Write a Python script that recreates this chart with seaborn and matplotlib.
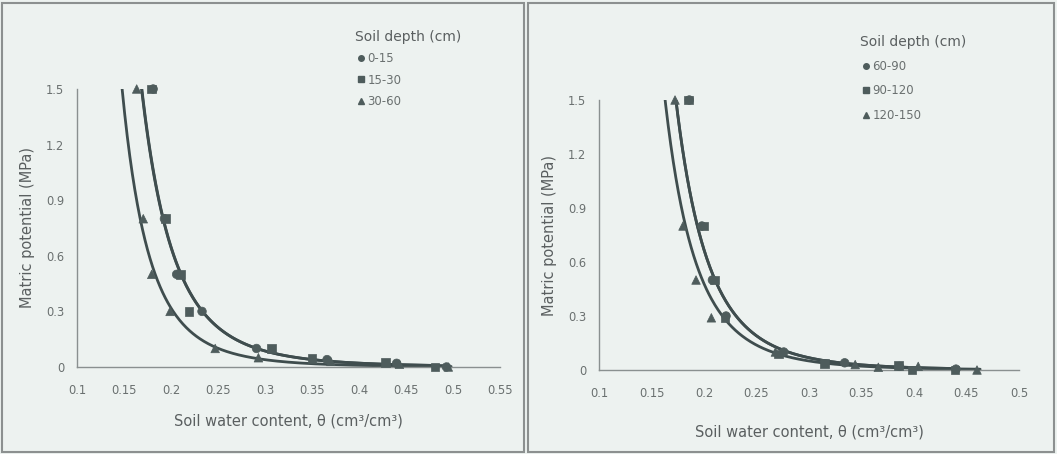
import numpy as np
import pandas as pd
import matplotlib
matplotlib.use("Agg")
import matplotlib.pyplot as plt
import seaborn as sns
from matplotlib.patches import Rectangle
from matplotlib.lines import Line2D

# ---------------- data ----------------
# Left panel: soil depths 0-15, 15-30, 30-60 cm
left_labels = ["0-15", "15-30", "30-60"]
left_theta_0_15 = [0.181, 0.193, 0.206, 0.233, 0.291, 0.366, 0.440, 0.493]
left_psi_0_15 = [1.5, 0.8, 0.5, 0.3, 0.1, 0.04, 0.02, 0.0]
left_theta_15_30 = [0.179, 0.194, 0.210, 0.219, 0.307, 0.350, 0.428, 0.481]
left_psi_15_30 = [1.5, 0.8, 0.5, 0.3, 0.1, 0.045, 0.025, 0.0]
left_theta_30_60 = [0.1635, 0.1705, 0.1795, 0.199, 0.247, 0.293, 0.370, 0.443, 0.495]
left_psi_30_60 = [1.5, 0.8, 0.5, 0.3, 0.1, 0.05, 0.03, 0.015, 0.0]
# power trendlines psi = a * theta^(-b)
left_trend_a = [2.18e-4, 2.20e-4, 8.0e-5]
left_trend_b = [4.97, 4.96, 5.15]

# Right panel: soil depths 60-90, 90-120, 120-150 cm
right_labels = ["60-90", "90-120", "120-150"]
right_theta_60_90 = [0.186, 0.198, 0.208, 0.221, 0.276, 0.334, 0.386, 0.440]
right_psi_60_90 = [1.5, 0.8, 0.5, 0.3, 0.1, 0.04, 0.02, 0.005]
right_theta_90_120 = [0.185, 0.200, 0.210, 0.220, 0.271, 0.315, 0.385, 0.398, 0.439]
right_psi_90_120 = [1.5, 0.8, 0.5, 0.29, 0.09, 0.035, 0.024, 0.0, 0.0]
right_theta_120_150 = [0.1724, 0.180, 0.1924, 0.207, 0.268, 0.344, 0.366, 0.404, 0.460]
right_psi_120_150 = [1.5, 0.8, 0.5, 0.29, 0.1, 0.03, 0.015, 0.02, 0.0]
right_trend_a = [7.64e-5, 7.75e-5, 6.13e-5]
right_trend_b = [5.64, 5.63, 5.57]

left_xticks = [0.1, 0.15, 0.2, 0.25, 0.3, 0.35, 0.4, 0.45, 0.5, 0.55]
left_xticklabels = ["0.1", "0.15", "0.2", "0.25", "0.3", "0.35", "0.4", "0.45", "0.5", "0.55"]
right_xticks = [0.1, 0.15, 0.2, 0.25, 0.3, 0.35, 0.4, 0.45, 0.5]
right_xticklabels = ["0.1", "0.15", "0.2", "0.25", "0.3", "0.35", "0.4", "0.45", "0.5"]
yticks = [0, 0.3, 0.6, 0.9, 1.2, 1.5]
yticklabels = ["0", "0.3", "0.6", "0.9", "1.2", "1.5"]

legend_title = "Soil depth (cm)"
xlabel = "Soil water content, θ (cm³/cm³)"
ylabel = "Matric potential (MPa)"

# ---------------- style ----------------
BG = "#edf2f0"
MARK = "#4e5c5c"
LINE = "#3f4d4e"
TXT = "#5a5f60"
TICKTXT = "#6a7070"
sns.set_theme(style="white")
plt.rcParams["font.family"] = ["DejaVu Sans"]
plt.rcParams["figure.facecolor"] = BG
plt.rcParams["axes.facecolor"] = BG

W, H = 1057, 454
fig = plt.figure(figsize=(W / 100, H / 100), dpi=100)

# panel frames
fig.patches.append(Rectangle((2 / W, 2 / H), 522 / W, 449 / H, transform=fig.transFigure,
                             fill=False, edgecolor="#8c9090", lw=1.5))
fig.patches.append(Rectangle((528 / W, 2 / H), 526 / W, 449 / H, transform=fig.transFigure,
                             fill=False, edgecolor="#8c9090", lw=1.5))

ax1 = fig.add_axes([77 / W, (H - 367) / H, 423 / W, 278 / H])
ax2 = fig.add_axes([599 / W, (H - 370) / H, 420 / W, 270 / H])

markers = ["o", "s", "^"]


def build_df(labels, thetas, psis):
    rows = []
    for lab, th, ps in zip(labels, thetas, psis):
        for t, p in zip(th, ps):
            rows.append({"depth": lab, "theta": t, "psi": p})
    return pd.DataFrame(rows)


def draw(ax, labels, thetas, psis, ta, tb, xmax, xticks, xticklabels,
         leg_xy, leg_spacing, xlabel_pad):
    df = build_df(labels, thetas, psis)
    # trendlines
    for th, a, b in zip(thetas, ta, tb):
        grid = np.linspace(0.14, max(th) + 0.003, 400)
        sns.lineplot(x=grid, y=a * grid ** (-b), ax=ax, color=LINE, lw=2.0,
                     estimator=None, sort=False)
    sns.scatterplot(data=df, x="theta", y="psi", style="depth", style_order=labels,
                    markers=dict(zip(labels, markers)), color=MARK, s=38,
                    edgecolor=MARK, linewidth=0.5, ax=ax, legend=False, zorder=3)
    for coll in ax.collections:
        coll.set_clip_on(False)
    ax.set_xlim(0.1, xmax)
    ax.set_ylim(0, 1.5)
    ax.set_xticks(xticks)
    ax.set_xticklabels(xticklabels)
    ax.set_yticks(yticks)
    ax.set_yticklabels(yticklabels)
    for s in ["top", "right"]:
        ax.spines[s].set_visible(False)
    for s in ["left", "bottom"]:
        ax.spines[s].set_color("#8a9090")
        ax.spines[s].set_linewidth(1.0)
    ax.tick_params(axis="both", which="both", direction="out", length=3, width=0.8,
                   color="#8a9090", labelsize=8.3, labelcolor=TICKTXT, pad=6)
    ax.tick_params(axis="x", pad=9)
    ax.set_xlabel(xlabel, fontsize=10.5, color=TXT, labelpad=xlabel_pad)
    ax.set_ylabel(ylabel, fontsize=10.5, color=TXT, labelpad=8)
    handles = [Line2D([], [], ls="", marker=m, color=MARK, markersize=4) for m in markers]
    leg = ax.legend(handles, labels, title=legend_title, loc="upper left",
                    bbox_to_anchor=leg_xy, bbox_transform=fig.transFigure,
                    frameon=False, fontsize=8.5, title_fontsize=10,
                    handletextpad=0.05, handlelength=1.0, labelspacing=leg_spacing,
                    borderpad=0, borderaxespad=0, alignment="left")
    for t in leg.get_texts():
        t.set_color(TICKTXT)
    leg.get_title().set_color(TXT)


draw(ax1, left_labels,
     [left_theta_0_15, left_theta_15_30, left_theta_30_60],
     [left_psi_0_15, left_psi_15_30, left_psi_30_60],
     left_trend_a, left_trend_b, 0.55, left_xticks, left_xticklabels,
     (355 / W, 1 - 30 / H), 0.7, 12)
draw(ax2, right_labels,
     [right_theta_60_90, right_theta_90_120, right_theta_120_150],
     [right_psi_60_90, right_psi_90_120, right_psi_120_150],
     right_trend_a, right_trend_b, 0.5, right_xticks, right_xticklabels,
     (860 / W, 1 - 35 / H), 0.95, 18)

fig.savefig("out.png", dpi=100, facecolor=BG)
